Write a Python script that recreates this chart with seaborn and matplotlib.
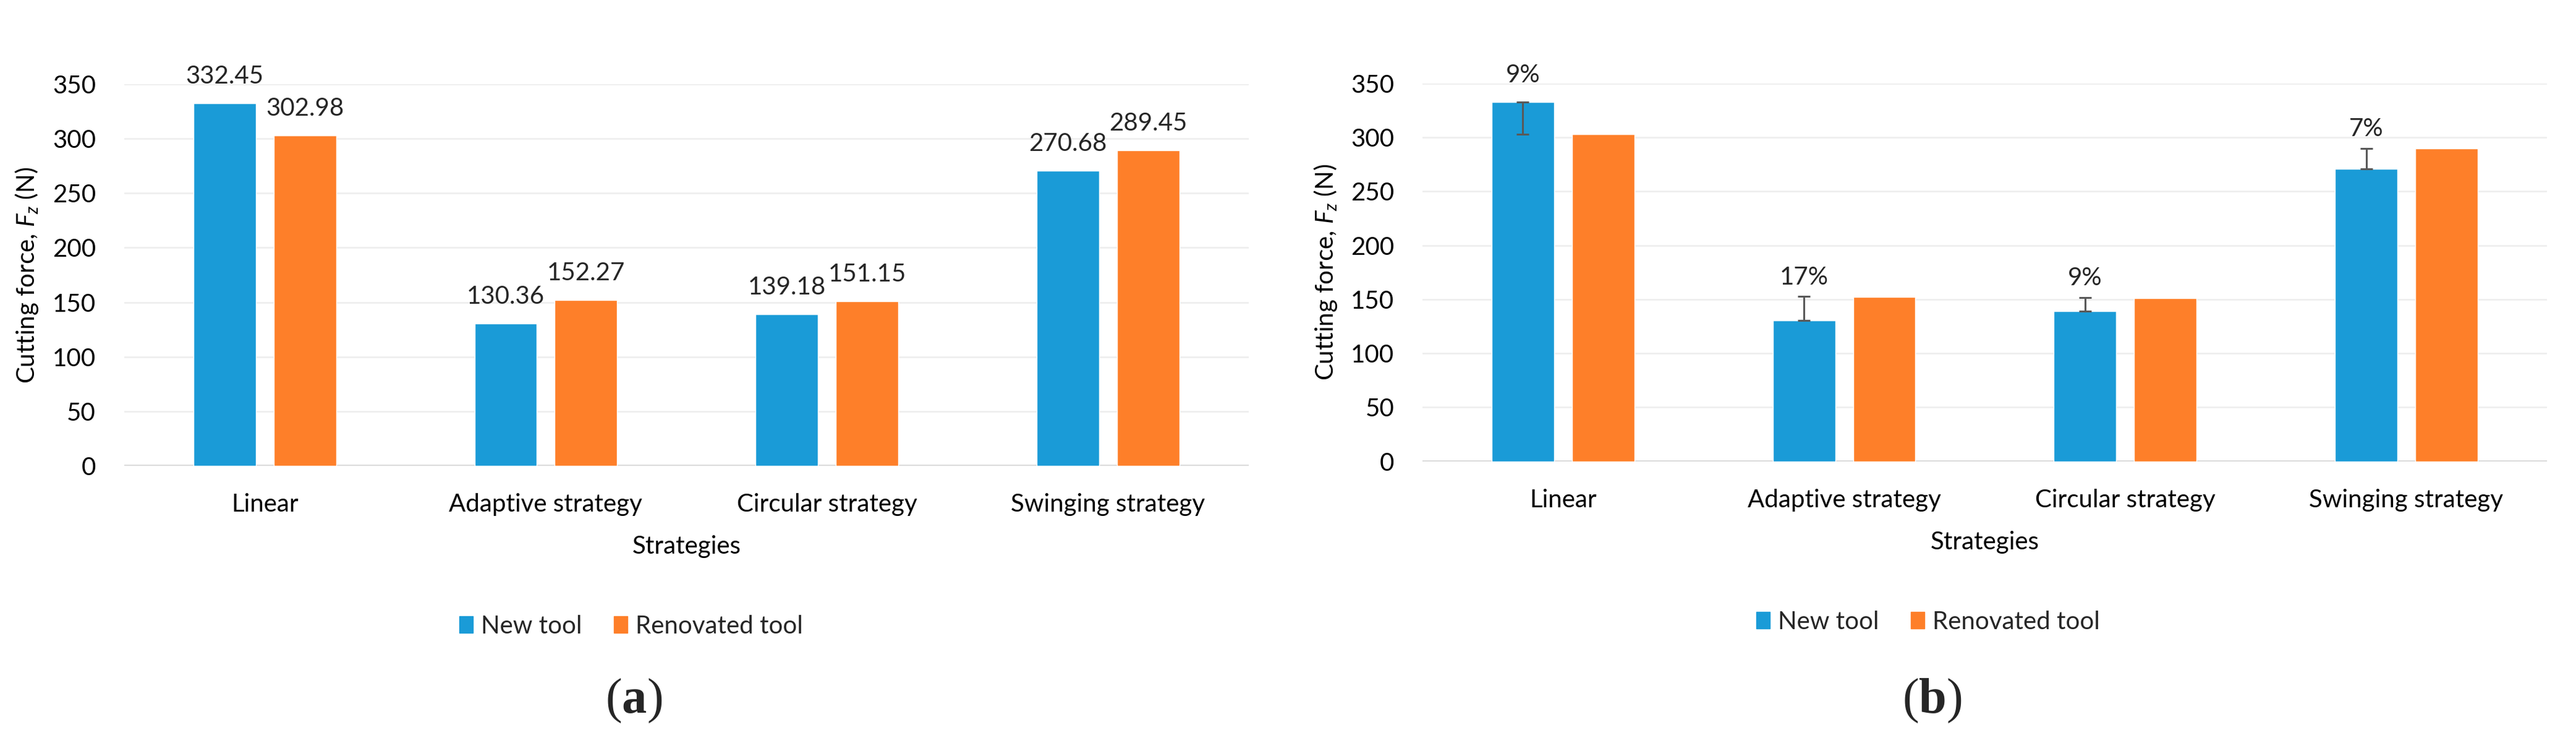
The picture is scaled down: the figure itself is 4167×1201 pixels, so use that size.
import matplotlib
matplotlib.use("Agg")
import matplotlib.pyplot as plt
from matplotlib.patches import Patch
import pandas as pd
import seaborn as sns

# chart values
strategies = ["Linear", "Adaptive strategy", "Circular strategy", "Swinging strategy"]
new_tool = [332.45, 130.36, 139.18, 270.68]
renovated_tool = [302.98, 152.27, 151.15, 289.45]
tools = ["New tool", "Renovated tool"]
diff_pct = [9, 17, 9, 7]        # difference shown on panel (b)
diff_sign = [-1, 1, 1, 1]       # direction of the error bar from the new-tool bar
y_ticks = [0, 50, 100, 150, 200, 250, 300, 350]

BLUE = "#1A9BD7"
ORANGE = "#FE7F29"
GRID = "#EDEDED"
BASE = "#D9D9D9"
ERR = "#595959"
FS = 29

sns.set_theme(style="white")
plt.rcParams["font.family"] = ["Lato", "DejaVu Sans"]
plt.rcParams["mathtext.fontset"] = "custom"
plt.rcParams["mathtext.rm"] = "Lato"
plt.rcParams["mathtext.it"] = "Lato:italic"
plt.rcParams["mathtext.bf"] = "Liberation Serif:bold"

df = pd.DataFrame({
    "Strategy": strategies * 2,
    "Force": new_tool + renovated_tool,
    "Tool": [tools[0]] * len(strategies) + [tools[1]] * len(strategies),
})


def draw_bars(ax):
    """Grouped bars in the Excel look, with light horizontal grid."""
    sns.barplot(data=df, x="Strategy", y="Force", hue="Tool",
                palette=[BLUE, ORANGE], width=0.571, gap=0.223,
                saturation=1, legend=False, ax=ax, zorder=2)
    ax.set_ylim(0, 350)
    ax.set_yticks(y_ticks)
    ax.set_xlim(-0.5, len(strategies) - 0.5)
    ax.yaxis.grid(True, color=GRID, lw=1.8, zorder=0)
    ax.set_axisbelow(True)
    ax.axhline(0, color=BASE, lw=3.4, zorder=1)
    for s in ax.spines.values():
        s.set_visible(False)
    ax.tick_params(axis="y", length=0, pad=33, labelsize=FS, labelcolor="black")
    ax.tick_params(axis="x", length=0, pad=32, labelsize=FS, labelcolor="black")
    ax.set_xlabel("Strategies", fontsize=FS, labelpad=22, color="black")
    ax.set_ylabel(r"Cutting force, $F_z$ (N)", fontsize=FS, labelpad=14,
                  color="black")


fig = plt.figure(figsize=(41.67, 12.01), dpi=100)
ax_a = fig.add_axes([0.0482, 0.373, 0.4365, 0.5137])
ax_b = fig.add_axes([0.5522, 0.379, 0.4365, 0.509])

# (a) values above the bars
draw_bars(ax_a)
for cont in ax_a.containers:
    for p in cont.patches:
        ax_a.annotate(f"{p.get_height():.2f}",
                      xy=(p.get_x() + p.get_width() / 2, p.get_height()),
                      xytext=(0, 18), textcoords="offset points",
                      ha="center", va="bottom", fontsize=FS)

# (b) difference bars on the new-tool bars
draw_bars(ax_b)
for p, v, pct, sgn in zip(ax_b.containers[0].patches, new_tool, diff_pct, diff_sign):
    x = p.get_x() + p.get_width() / 2
    delta = v * pct / 100
    lower = delta if sgn < 0 else 0
    upper = delta if sgn > 0 else 0
    ax_b.errorbar(x, v, yerr=[[lower], [upper]], fmt="none", ecolor=ERR,
                  elinewidth=2.2, capsize=7, capthick=2.2, zorder=3)
    top = v + upper
    off = 18 if upper == 0 else 9
    ax_b.annotate(f"{pct}%", xy=(x, top), xytext=(0, off),
                  textcoords="offset points", ha="center", va="bottom",
                  fontsize=FS)

handles = [Patch(color=BLUE), Patch(color=ORANGE)]
for cx, cy in [(0.245, 0.157), (0.7485, 0.163)]:
    fig.legend(handles, tools, loc="center", bbox_to_anchor=(cx, cy), ncol=2,
               frameon=False, fontsize=FS, handlelength=0.54, handleheight=0.66,
               handletextpad=0.32, columnspacing=1.3)

for cx, tag in [(0.246, "a"), (0.750, "b")]:
    fig.text(cx, 0.057, "(" + r"$\mathbf{" + tag + "}$" + ")",
             family="Liberation Serif", fontsize=58, ha="center", va="center")

fig.savefig("out.png", dpi=100, facecolor="white")
